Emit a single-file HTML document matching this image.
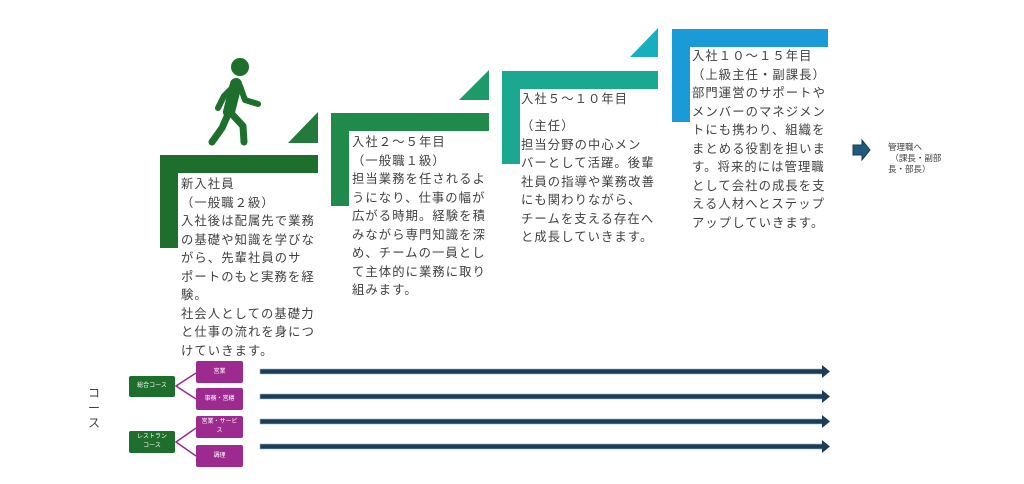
<!DOCTYPE html>
<html><head><meta charset="utf-8"><style>
body{margin:0;width:1024px;height:484px;background:#fff;position:relative;overflow:hidden;font-family:"Liberation Sans","Noto Sans CJK JP",sans-serif;}
.t{position:absolute;font-size:12.3px;line-height:18.5px;color:#404040;letter-spacing:1.1px;white-space:nowrap;}
.b{position:absolute;color:#fff;font-size:6px;text-align:center;display:flex;align-items:center;justify-content:center;line-height:9px;border-radius:2px;}
.g{background:#1e6e2c;}
.p{background:#9c2a8f;}
</style></head><body>
<svg width="1024" height="484" style="position:absolute;left:0;top:0">
<path d="M160 155H318V173H178V248H160Z" fill="#1e6e2c"/>
<path d="M318 112V143H288Z" fill="#237a3c"/>
<path d="M331 113H489V131H349V206H331Z" fill="#1f8a4a"/>
<path d="M489 70V100H459Z" fill="#1d9a6a"/>
<path d="M502 71H658V89H520V164H502Z" fill="#1aa890"/>
<path d="M658 28V57H630Z" fill="#17aec0"/>
<path d="M672 29H828V47H690V122H672Z" fill="#1a9ad6"/>
<g fill="#1e6e2c" stroke="#1e6e2c" stroke-linecap="round" stroke-linejoin="round">
<circle cx="240" cy="67" r="9" stroke="none"/>
<path d="M236 84 L229 112" stroke-width="12" fill="none"/>
<path d="M236 84 L224 96 L218 108" stroke-width="6" fill="none"/>
<path d="M240 86 L245 100 L258 104" stroke-width="6" fill="none"/>
<path d="M230 112 L243 126 L244 142" stroke-width="7" fill="none"/>
<path d="M229 112 L222 128 L212 142" stroke-width="7" fill="none"/>
</g>
<path d="M853 145H862V140L870 150L862 160V155H853Z" fill="#1f5a7a" stroke="#153a52" stroke-width="1"/>
<g stroke="#9c2a8f" stroke-width="1.5" fill="none">
<path d="M196 373L176 386L196 399"/>
<path d="M196 428L176 442L196 456"/>
</g>
<g>
<rect x="260" y="369" width="563" height="5" fill="#1c3d55" stroke="#8fb7d0" stroke-width="0.6"/>
<path d="M822 365L830 371.5L822 378Z" fill="#1c3d55"/>
<rect x="260" y="394" width="563" height="5" fill="#1c3d55" stroke="#8fb7d0" stroke-width="0.6"/>
<path d="M822 390L830 396.5L822 403Z" fill="#1c3d55"/>
<rect x="260" y="419" width="563" height="5" fill="#1c3d55" stroke="#8fb7d0" stroke-width="0.6"/>
<path d="M822 415L830 421.5L822 428Z" fill="#1c3d55"/>
<rect x="260" y="444" width="563" height="5" fill="#1c3d55" stroke="#8fb7d0" stroke-width="0.6"/>
<path d="M822 440L830 446.5L822 453Z" fill="#1c3d55"/>
</g>
</svg>

<div class="t" style="left:181px;top:175px">新入社員<br>（一般職２級）<br>入社後は配属先で業務<br>の基礎や知識を学びな<br>がら、先輩社員のサ<br>ポートのもと実務を経<br>験。<br>社会人としての基礎力<br>と仕事の流れを身につ<br>けていきます。</div>
<div class="t" style="left:352px;top:133px">入社２～５年目<br>（一般職１級）<br>担当業務を任されるよ<br>うになり、仕事の幅が<br>広がる時期。経験を積<br>みながら専門知識を深<br>め、チームの一員とし<br>て主体的に業務に取り<br>組みます。</div>
<div class="t" style="left:521px;top:90px">入社５～１０年目</div>
<div class="t" style="left:521px;top:117px">（主任）<br>担当分野の中心メン<br>バーとして活躍。後輩<br>社員の指導や業務改善<br>にも関わりながら、<br>チームを支える存在へ<br>と成長していきます。</div>
<div class="t" style="left:692px;top:47px">入社１０～１５年目<br>（上級主任・副課長）<br>部門運営のサポートや<br>メンバーのマネジメン<br>トにも携わり、組織を<br>まとめる役割を担いま<br>す。将来的には管理職<br>として会社の成長を支<br>える人材へとステップ<br>アップしていきます。</div>
<div style="position:absolute;left:888px;top:142px;font-size:8.5px;line-height:11px;color:#404040">管理職へ<br>&nbsp;（課長・副部<br>長・部長）</div>
<div style="position:absolute;left:88px;top:386px;font-size:12px;line-height:15px;color:#404040;width:14px">コ<br>ー<br>ス</div>
<div class="b g" style="left:129px;top:376px;width:46px;height:21px">総合コース</div>
<div class="b g" style="left:129px;top:431px;width:46px;height:22px">レストラン<br>コース</div>
<div class="b p" style="left:196px;top:361px;width:47px;height:22px">営業</div>
<div class="b p" style="left:196px;top:388px;width:47px;height:22px">事務・営繕</div>
<div class="b p" style="left:196px;top:416px;width:47px;height:22px">営業・サービ<br>ス</div>
<div class="b p" style="left:196px;top:445px;width:47px;height:22px">調理</div>
</body></html>
